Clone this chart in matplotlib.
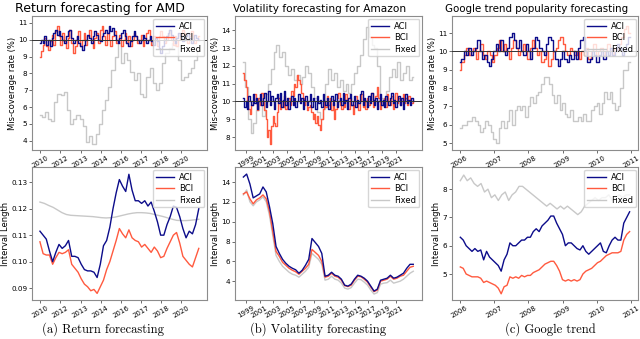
import numpy as np
import matplotlib
matplotlib.use("Agg")
import matplotlib.pyplot as plt

# ---------------- data ----------------
# Panel (a) Return forecasting for AMD
a_ticklabels = ['2010', '2012', '2013', '2014', '2016', '2017', '2018', '2020']
a_aci_cov = [9.8,10.0,9.8,10.2,9.7,10.0,9.6,10.1,10.4,10.6,10.3,10.5,10.2,10.0,9.8,10.2,10.5,10.6,10.1,9.8,
             10.0,10.2,9.8,9.6,9.4,9.7,10.0,10.3,10.1,9.8,10.2,10.5,10.3,10.0,9.9,10.2,10.4,10.6,10.4,10.8,
             10.5,10.7,10.3,10.0,9.8,10.1,10.4,10.6,10.2,9.8,9.6,9.9,10.2,10.5,10.2,10.0,9.8,10.0,10.3,10.1,
             9.8,10.0,10.2,9.9,9.7,10.1,9.9,9.5,9.2,9.6,10.0,10.2,10.4,10.6,10.3,10.0,9.8,10.1,10.4,10.2,
             9.9,10.0,10.2,10.4,10.1,9.8,10.0,10.3,10.1,10.0]
a_bci_cov = [9.0,9.3,9.7,10.1,9.6,9.4,9.9,10.3,9.7,10.5,10.8,10.2,9.7,10.4,9.9,9.5,10.1,10.6,9.8,9.2,
             9.6,10.2,10.5,9.6,10.0,10.4,9.7,10.2,10.6,10.0,9.5,10.1,10.4,9.8,10.6,10.8,10.2,9.7,10.4,10.0,
             9.6,10.2,10.5,9.8,10.0,10.3,9.6,10.0,10.4,9.8,10.2,9.6,10.0,10.4,10.2,9.8,10.0,10.3,9.6,10.0,
             10.4,10.6,10.0,9.7,10.2,10.0,9.6,10.2,10.5,10.2,9.8,10.0,10.3,10.6,10.0,9.7,10.2,9.6,10.0,10.3,
             10.6,10.4,10.0,9.8,10.2,10.5,10.1,9.8,10.0,10.2]
a_fix_cov = [5.5,5.4,5.7,5.3,5.2,6.3,6.8,6.7,6.9,5.8,5.0,5.3,5.5,5.3,4.9,3.9,4.3,3.8,4.4,5.0,
             5.8,6.4,7.2,8.2,9.0,9.8,8.6,9.2,8.8,8.1,7.6,8.0,6.8,6.6,7.8,8.3,7.4,7.0,7.4,8.6,
             9.2,9.5,9.8,9.6,8.8,7.6,7.8,8.0,8.3,8.8,9.4]
a_aci_len = [0.1115,0.110,0.1085,0.104,0.100,0.1035,0.1065,0.105,0.106,0.108,0.102,0.102,0.1015,0.099,0.097,
             0.0965,0.0965,0.096,0.094,0.099,0.106,0.108,0.113,0.120,0.126,0.131,0.1285,0.1265,0.133,0.127,
             0.123,0.123,0.122,0.123,0.121,0.1225,0.119,0.115,0.110,0.110,0.114,0.117,0.121,0.1205,0.117,
             0.1125,0.109,0.1115,0.1105,0.114,0.120]
a_bci_len = [0.1075,0.103,0.1025,0.1025,0.099,0.1015,0.1035,0.1030,0.1035,0.1045,0.099,0.0975,0.096,0.0935,0.0915,
             0.0905,0.089,0.0895,0.088,0.0905,0.093,0.097,0.100,0.104,0.108,0.1125,0.1105,0.109,0.112,0.109,
             0.108,0.1075,0.1055,0.1065,0.105,0.1035,0.1055,0.104,0.1015,0.102,0.105,0.1075,0.110,0.111,0.107,
             0.102,0.1005,0.099,0.098,0.1015,0.105]
a_fix_len = [0.1225,0.122,0.1212,0.1205,0.1195,0.1185,0.1178,0.1175,0.1174,0.1173,0.1172,0.1171,0.1170,0.1168,0.1166,
             0.1165,0.1166,0.1168,0.1172,0.1176,0.1180,0.1183,0.1185,0.1185,0.1184,0.1182,0.1178,0.1174,0.1170,0.1165,
             0.1160,0.1156,0.1155,0.1155,0.1156,0.1158,0.1160]

# Panel (b) Volatility forecasting for Amazon
b_ticklabels = ['1999', '2001', '2003', '2005', '2007', '2009', '2011', '2013', '2015', '2017', '2019', '2021']
b_aci_cov = [10.2,9.7,10.0,9.6,10.3,10.0,9.8,10.4,9.9,10.2,9.6,10.0,10.4,9.8,10.2,10.5,9.7,10.0,10.6,9.8,
             10.3,10.0,9.6,10.2,10.4,9.9,10.5,9.7,10.1,10.6,9.8,10.2,9.6,10.0,10.3,9.8,10.2,9.7,10.0,10.4,
             9.9,10.2,9.6,10.1,10.3,9.8,10.0,10.4,9.7,10.2,10.0,9.6,10.3,9.9,10.1,9.7,10.4,10.0,9.8,10.2,
             9.6,10.0,10.3,9.8,10.1,10.4,9.7,10.0,10.2,9.8,10.5,9.9,10.1,9.6,10.2,10.4,9.8,10.0,10.3,9.7,
             10.1,9.9,10.4,10.6,9.8,10.2,10.0,9.7,10.3,9.9,10.5,10.1,9.8,10.2,9.6,10.0,10.4,9.8,10.1,9.7,
             10.3,10.0,9.8,10.2,10.5,9.9,10.1,9.7,10.0,10.3,9.8,10.2,9.6,10.0,10.4,9.9,10.1,9.8,10.2,10.0]
b_bci_cov = [11.6,11.2,10.8,10.0,9.6,9.3,9.8,10.1,10.4,9.9,9.5,10.2,9.8,10.5,10.0,9.5,9.0,8.0,8.4,7.6,
             8.6,9.2,8.8,8.6,9.4,10.2,9.6,10.0,9.7,10.3,9.6,10.0,10.2,9.8,10.6,10.3,11.0,10.8,11.5,11.2,
             11.0,10.5,10.2,9.8,10.0,9.5,9.7,9.8,9.4,9.0,9.3,8.8,9.2,8.7,8.4,9.0,9.6,10.0,9.7,10.3,
             9.8,10.2,9.5,9.9,9.0,9.6,10.2,10.5,9.8,9.6,10.1,9.7,10.4,10.0,9.6,10.2,9.8,9.3,9.8,10.3,
             9.9,9.5,10.0,10.4,9.7,10.1,9.6,10.2,9.8,10.0,10.5,9.7,9.9,10.3,10.8,10.2,9.6,10.0,9.8,10.2,
             9.7,10.4,10.0,9.8,10.3,9.6,10.1,10.5,9.9,10.2,9.8,10.0,10.4,9.9,10.2,9.8,10.3,10.0,9.9,10.1]
b_fix_cov = [12.2,10.8,9.0,8.2,8.8,9.5,10.0,9.2,10.4,11.0,11.8,12.8,13.2,12.5,12.8,12.0,11.5,11.8,11.2,11.5,
             11.0,11.4,12.0,11.6,10.8,10.2,9.4,9.0,9.6,11.0,11.8,11.2,11.6,10.8,11.2,10.6,11.0,10.5,11.0,11.6,
             12.0,12.6,13.5,14.2,13.6,13.2,13.0,12.0,10.2,9.8,10.6,11.4,11.8,11.4,12.2,11.2,11.6,12.0,11.2,11.4]
b_aci_len = [14.5,14.8,13.8,12.4,12.6,12.8,13.5,13.0,11.5,9.8,7.5,6.8,6.2,5.8,5.5,5.3,5.15,4.8,5.1,5.6,
             6.2,8.3,7.9,7.5,6.8,4.5,4.6,4.9,4.6,4.5,4.2,3.6,3.5,3.7,4.2,4.6,4.5,4.3,4.0,3.5,
             3.0,3.2,4.1,4.2,4.3,4.6,4.3,4.4,4.6,4.8,5.3,5.7,5.7]
b_bci_len = [12.8,13.0,12.3,11.8,12.2,12.4,12.7,12.3,11.0,9.0,7.0,6.5,5.9,5.6,5.3,5.1,4.95,4.7,5.0,5.3,
             5.7,7.2,6.9,6.6,6.0,4.4,4.5,4.8,4.5,4.4,4.1,3.55,3.45,3.6,4.1,4.5,4.45,4.2,3.9,3.4,
             2.95,3.1,4.0,4.1,4.2,4.5,4.2,4.3,4.5,4.6,5.0,5.4,5.5]
b_fix_len = [12.7,13.2,12.0,11.6,12.0,12.2,12.5,12.0,10.6,8.6,6.6,6.0,5.5,5.2,4.9,4.7,4.6,4.4,4.7,5.0,
             5.4,6.8,6.5,6.2,5.7,4.1,4.2,4.5,4.2,4.1,3.8,3.3,3.2,3.35,3.8,4.2,4.15,3.9,3.6,3.1,
             2.7,2.85,3.7,3.8,3.85,4.1,3.8,3.9,4.0,4.2,4.5,4.8,5.0]

# Panel (c) Google trend popularity forecasting
c_ticklabels = ['2006', '2007', '2008', '2009', '2010', '2011']
c_aci_cov = [9.4,9.6,10.0,9.8,10.2,9.8,10.0,10.2,10.6,10.0,9.6,9.8,9.4,9.2,9.6,10.0,10.4,10.0,10.6,10.0,
             9.8,10.2,10.8,11.0,10.6,10.2,10.6,10.0,9.8,10.4,10.0,9.6,10.2,10.8,10.6,10.2,10.0,9.8,10.4,10.8,
             10.6,10.0,9.6,9.2,9.6,10.0,9.6,9.4,9.8,9.6,10.0,9.6,10.2,10.6,10.8,10.0,9.4,9.6,10.0,9.8,
             9.4,9.8,10.0,9.6,10.0,9.8,10.2,9.8,10.0,10.4,10.2,9.8,10.0,10.4,10.8]
c_bci_cov = [9.0,9.4,9.8,10.2,9.8,10.0,10.2,9.6,10.0,10.4,9.8,9.6,10.0,9.8,9.4,9.8,10.2,10.6,10.0,10.4,
             10.0,9.6,10.2,10.6,10.2,9.8,10.0,10.4,10.0,9.6,10.2,10.6,10.2,9.8,10.0,9.4,9.6,10.0,9.2,9.6,
             10.0,10.2,10.6,10.8,10.4,10.0,9.8,10.2,10.0,9.8,10.0,9.6,10.0,9.8,10.2,9.6,10.0,10.4,9.8,10.0,
             10.2,9.8,10.0,10.4,10.0,9.8,10.2,10.0,10.4,10.8,11.2,11.4,11.0]
c_fix_cov = [5.8,6.0,6.0,6.2,6.2,6.4,6.2,6.0,5.6,5.8,6.2,6.0,5.6,5.2,5.0,5.8,6.2,5.8,6.2,6.8,
             6.0,6.8,7.0,6.8,7.0,6.4,7.0,7.5,7.2,7.6,7.8,8.2,8.6,8.6,8.2,7.6,7.2,7.6,6.8,7.2,
             6.6,6.4,6.8,6.2,6.2,6.4,6.2,6.6,6.2,6.2,6.8,7.0,7.2,6.6,7.2,7.8,7.4,7.8,7.2,6.8,
             7.0,8.0,9.0,9.0,9.4]
c_aci_len = [6.3,6.2,6.0,5.9,5.8,5.9,5.8,5.85,5.5,5.8,5.6,5.5,5.4,5.3,5.1,5.5,5.7,6.1,6.0,6.0,
             6.1,6.2,6.2,6.3,6.3,6.5,6.6,6.5,6.7,6.8,6.9,7.05,7.05,6.8,6.6,6.4,6.0,6.1,6.1,6.0,
             5.9,5.85,6.0,5.8,5.7,5.8,5.9,6.0,6.1,5.8,5.75,6.0,6.2,6.3,6.2,6.2,6.8,7.0,7.2]
c_bci_len = [5.25,5.2,5.0,4.95,4.9,4.9,4.9,4.85,4.7,4.75,4.7,4.65,4.6,4.5,4.3,4.55,4.6,4.9,4.85,4.9,
             4.85,4.95,4.9,4.95,4.95,5.05,5.1,5.15,5.25,5.35,5.4,5.45,5.45,5.3,5.1,4.8,4.75,4.8,4.75,4.8,
             4.75,4.8,5.0,5.1,5.15,5.2,5.3,5.4,5.45,5.55,5.65,5.7,5.75,5.75,5.75,5.8,6.2,6.4,6.5]
c_fix_len = [8.3,8.5,8.3,8.4,8.2,8.1,8.2,7.9,8.0,7.7,7.8,7.6,7.8,7.9,7.6,7.8,7.9,8.1,8.1,8.0,
             7.9,7.8,7.7,7.6,7.5,7.4,7.5,7.4,7.3,7.4,7.3,7.4,7.3,7.2,7.1,7.2,7.4,7.5,7.6,7.7,
             7.6,7.7,7.7,7.8,7.6,7.7,7.8,7.7,7.8,7.8]

titles = ['Return forecasting for AMD', 'Volatility forecasting for Amazon',
          'Google trend popularity forecasting']
captions = ['(a) Return forecasting', '(b) Volatility forecasting', '(c) Google trend']

# ---------------- style ----------------
C_ACI = '#0c0c8a'
C_BCI = '#ff5a3f'
C_FIX = '#c8c8c8'
SPINE = '#8c8c8c'

fig = plt.figure(figsize=(6.4, 3.39), dpi=100)

cols = [(0.05, 0.273), (0.367, 0.292), (0.706, 0.291)]
top_y, top_h = 0.5575, 0.395
bot_y, bot_h = 0.115, 0.392

panels = [
    dict(ticks=a_ticklabels, xr=(-0.02, 7.88), cov=(a_aci_cov, a_bci_cov, a_fix_cov),
         ln=(a_aci_len, a_bci_len, a_fix_len), ylim_c=(3.45, 11.4), yt_c=range(4, 12),
         ylim_l=(0.0855, 0.1357), yt_l=[0.09, 0.10, 0.11, 0.12, 0.13], fmt='{:.2f}',
         tx=0.39, tfs=9),
    dict(ticks=b_ticklabels, xr=(-0.2, 12.3), cov=(b_aci_cov, b_bci_cov, b_fix_cov),
         ln=(b_aci_len, b_bci_len, b_fix_len), ylim_c=(7.27, 14.8), yt_c=range(8, 15),
         ylim_l=(2.1, 15.5), yt_l=[4, 6, 8, 10, 12, 14], fmt='{:d}', tx=0.455, tfs=7.6),
    dict(ticks=c_ticklabels, xr=(0.02, 4.95), cov=(c_aci_cov, c_bci_cov, c_fix_cov),
         ln=(c_aci_len, c_bci_len, c_fix_len), ylim_c=(4.62, 11.93), yt_c=range(5, 12),
         ylim_l=(4.08, 8.78), yt_l=[5, 6, 7, 8], fmt='{:d}', tx=0.457, tfs=7.4),
]


def style_axes(ax, p):
    for s in ax.spines.values():
        s.set_color(SPINE)
        s.set_linewidth(0.8)
    ax.set_xticks(range(len(p['ticks'])))
    ax.set_xticklabels(p['ticks'], rotation=30, fontsize=5)
    ax.tick_params(axis='both', length=2, width=0.6, pad=1.2, labelsize=5.2, color='#555555')
    ax.tick_params(axis='x', labelsize=5)


def draw(ax, p, series, steps):
    x0, x1 = p['xr']
    labels = ['ACI', 'BCI', 'Fixed']
    colors = [C_ACI, C_BCI, C_FIX]
    zs = [3, 2, 1]
    for vals, lab, c, z in zip(series, labels, colors, zs):
        x = np.linspace(x0, x1, len(vals))
        ax.plot(x, vals, color=c, lw=1.0, label=lab, zorder=z,
                drawstyle='steps-mid' if steps else 'default')
    ax.legend(loc='upper right', fontsize=6, handlelength=2.2, borderpad=0.35,
              labelspacing=0.3, handletextpad=0.6, framealpha=0.8, borderaxespad=0.3)


for i, (p, (lx, w)) in enumerate(zip(panels, cols)):
    ax1 = fig.add_axes([lx, top_y, w, top_h])
    draw(ax1, p, p['cov'], True)
    ax1.axhline(10, color='#333333', lw=0.7, zorder=4)
    ax1.set_ylim(*p['ylim_c'])
    ax1.set_yticks(list(p['yt_c']))
    ax1.set_yticklabels([str(v) for v in p['yt_c']])
    style_axes(ax1, p)
    ax1.set_ylabel('Mis-coverage rate (%)', fontsize=6, labelpad=1)
    ax1.set_title(titles[i], fontsize=p['tfs'], x=p['tx'], pad=3)

    ax2 = fig.add_axes([lx, bot_y, w, bot_h])
    draw(ax2, p, p['ln'], False)
    ax2.set_ylim(*p['ylim_l'])
    ax2.set_yticks(p['yt_l'])
    ax2.set_yticklabels([p['fmt'].format(v) for v in p['yt_l']])
    style_axes(ax2, p)
    ax2.set_ylabel('Interval Length', fontsize=6, labelpad=1)

cap_x = [0.161, 0.497, 0.86]
for cx, cap in zip(cap_x, captions):
    fig.text(cx, 0.03, cap, ha='center', va='center', fontsize=9, family='cmr10')

fig.savefig('out.png', dpi=100)
